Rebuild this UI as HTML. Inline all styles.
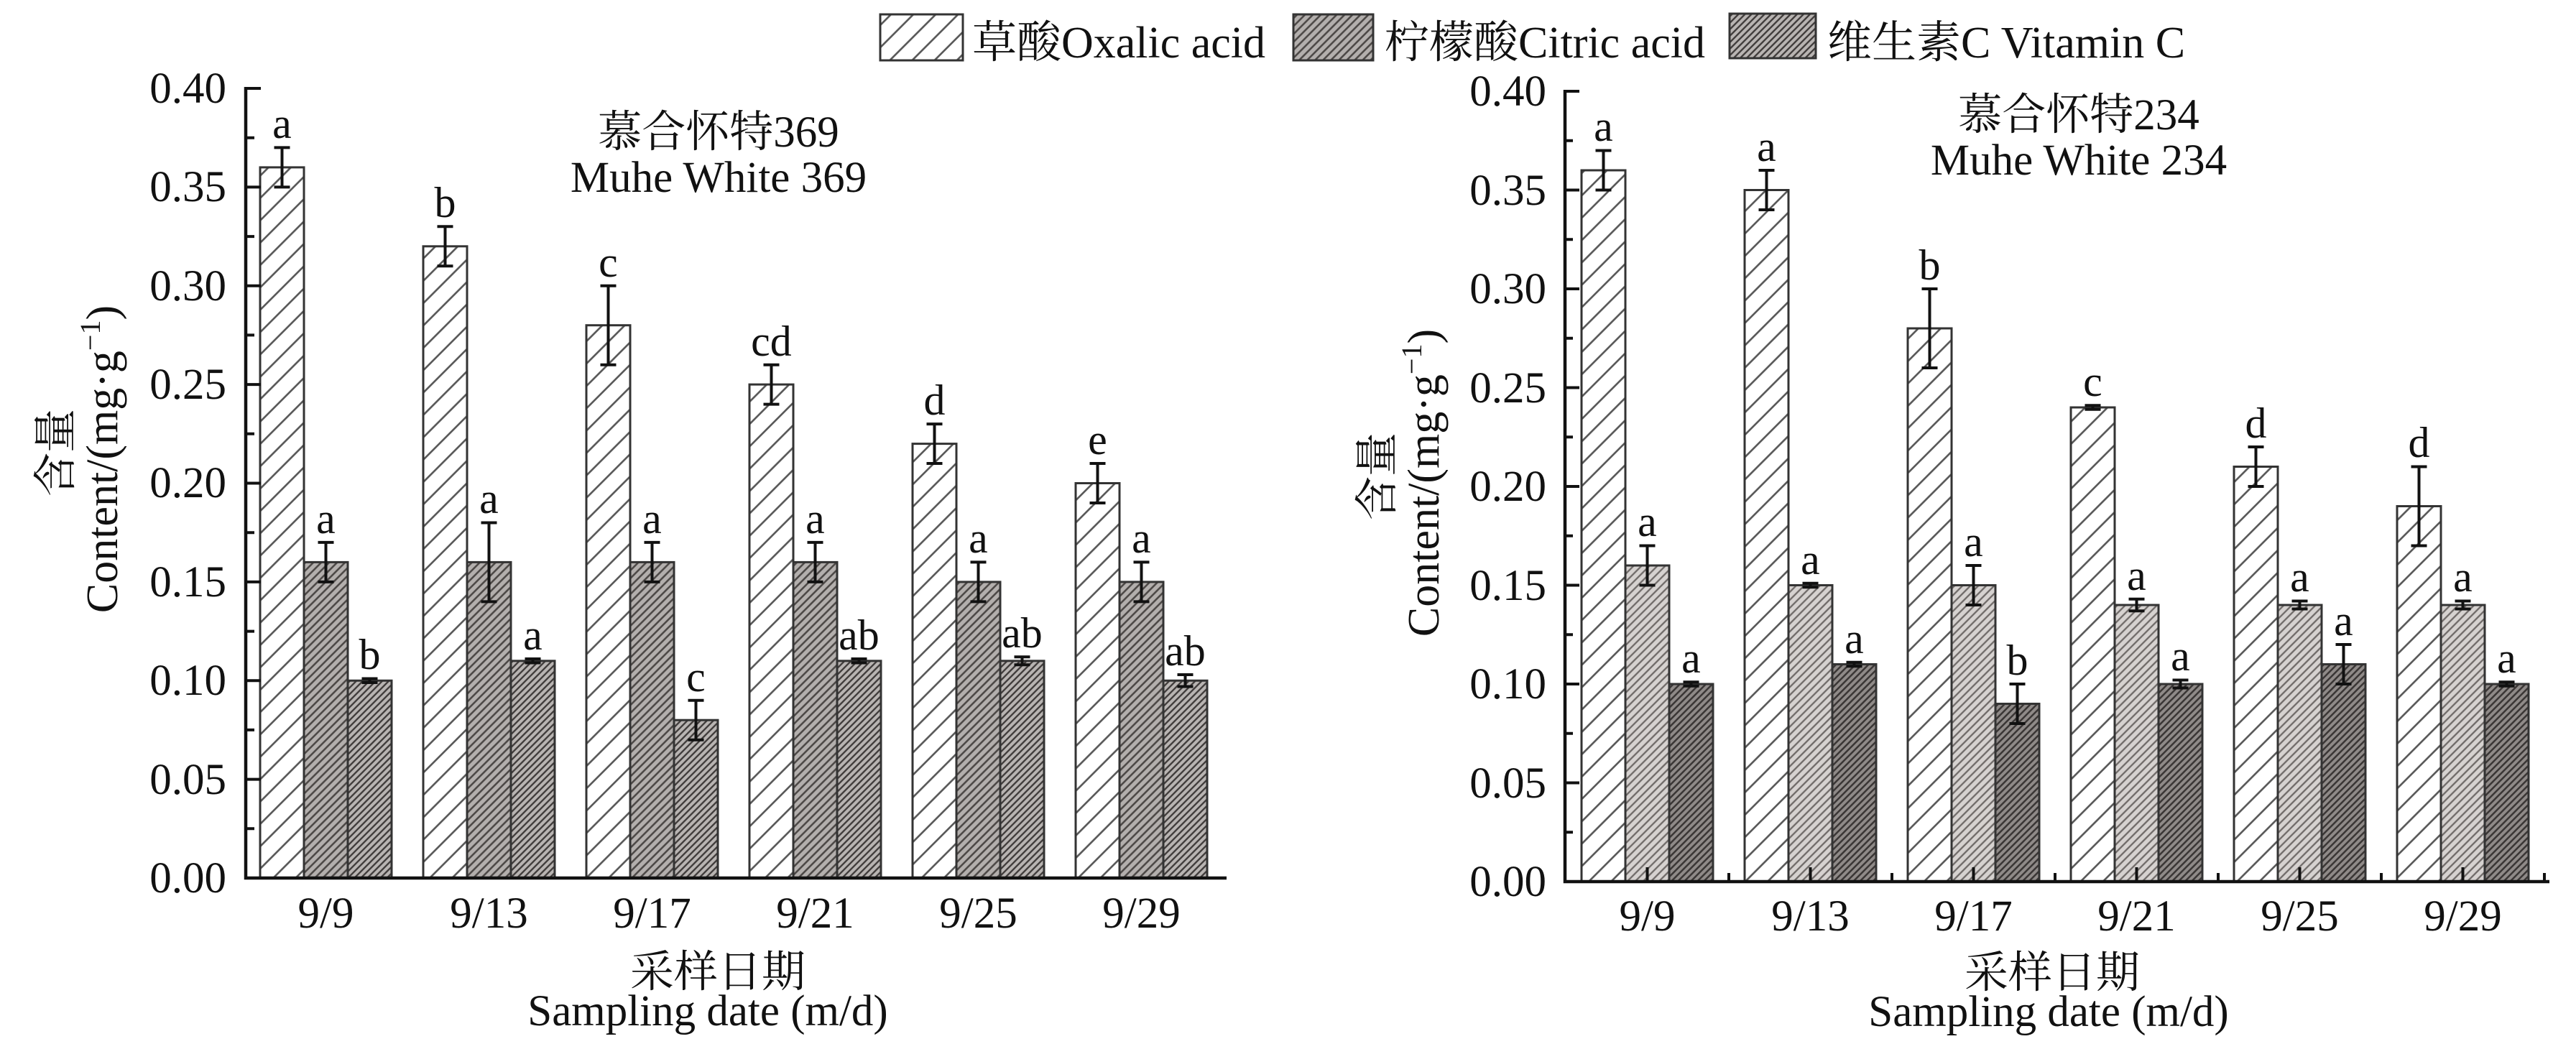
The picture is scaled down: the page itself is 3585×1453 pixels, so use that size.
<!DOCTYPE html>
<html><head><meta charset="utf-8"><style>
html,body{margin:0;padding:0;background:#fff;}
svg{display:block;}
text{font-family:"Liberation Serif","Noto Serif CJK SC",serif;fill:#111;}
</style></head><body>
<svg width="3585" height="1453" viewBox="0 0 3585 1453" xmlns="http://www.w3.org/2000/svg">
<defs>
<pattern id="ox" width="22" height="22" patternUnits="userSpaceOnUse" patternTransform="rotate(45)"><rect width="22" height="22" fill="#fff"/><line x1="11" y1="0" x2="11" y2="22" stroke="#555" stroke-width="2.6"/></pattern>
<pattern id="ciL" width="7.8" height="7.8" patternUnits="userSpaceOnUse" patternTransform="rotate(45)"><rect width="7.8" height="7.8" fill="#b3afad"/><line x1="3.9" y1="0" x2="3.9" y2="7.8" stroke="#4a4644" stroke-width="2.5"/></pattern>
<pattern id="vcL" width="6.4" height="6.4" patternUnits="userSpaceOnUse" patternTransform="rotate(45)"><rect width="6.4" height="6.4" fill="#b8b4b2"/><line x1="3.2" y1="0" x2="3.2" y2="6.4" stroke="#3e3a39" stroke-width="2.3"/></pattern>
<pattern id="ciR" width="7.8" height="7.8" patternUnits="userSpaceOnUse" patternTransform="rotate(45)"><rect width="7.8" height="7.8" fill="#d6d2d0"/><line x1="3.9" y1="0" x2="3.9" y2="7.8" stroke="#6f6a68" stroke-width="2.3"/></pattern>
<pattern id="vcR" width="6.4" height="6.4" patternUnits="userSpaceOnUse" patternTransform="rotate(45)"><rect width="6.4" height="6.4" fill="#8f8a88"/><line x1="3.2" y1="0" x2="3.2" y2="6.4" stroke="#3a3635" stroke-width="2.5"/></pattern>
</defs>
<rect width="3585" height="1453" fill="#fff"/>

<!-- Legend -->
<rect x="1225" y="20" width="115" height="64" fill="url(#ox)" stroke="#333" stroke-width="3"/>
<text x="1353" y="80" font-size="62">草酸Oxalic acid</text>
<rect x="1800" y="20" width="111" height="64" fill="url(#ciL)" stroke="#333" stroke-width="3"/>
<text x="1927" y="80" font-size="62">柠檬酸Citric acid</text>
<rect x="2407" y="19" width="120" height="62" fill="url(#vcL)" stroke="#333" stroke-width="3"/>
<text x="2543" y="80" font-size="62">维生素C Vitamin C</text>

<!-- ============ LEFT PANEL ============ -->
<g stroke="#333" stroke-width="3">
<rect x="362" y="232.9" width="61" height="989.1" fill="url(#ox)"/>
<rect x="423" y="782.4" width="61" height="439.6" fill="url(#ciL)"/>
<rect x="484" y="947.25" width="61" height="274.75" fill="url(#vcL)"/>
<rect x="589" y="342.8" width="61" height="879.2" fill="url(#ox)"/>
<rect x="650" y="782.4" width="61" height="439.6" fill="url(#ciL)"/>
<rect x="711" y="919.8" width="61" height="302.2" fill="url(#vcL)"/>
<rect x="816" y="452.7" width="61" height="769.3" fill="url(#ox)"/>
<rect x="877" y="782.4" width="61" height="439.6" fill="url(#ciL)"/>
<rect x="938" y="1002.2" width="61" height="219.8" fill="url(#vcL)"/>
<rect x="1043" y="535.1" width="61" height="686.9" fill="url(#ox)"/>
<rect x="1104" y="782.4" width="61" height="439.6" fill="url(#ciL)"/>
<rect x="1165" y="919.8" width="61" height="302.2" fill="url(#vcL)"/>
<rect x="1270" y="617.6" width="61" height="604.4" fill="url(#ox)"/>
<rect x="1331" y="809.9" width="61" height="412.1" fill="url(#ciL)"/>
<rect x="1392" y="919.8" width="61" height="302.2" fill="url(#vcL)"/>
<rect x="1497" y="672.5" width="61" height="549.5" fill="url(#ox)"/>
<rect x="1558" y="809.9" width="61" height="412.1" fill="url(#ciL)"/>
<rect x="1619" y="947.25" width="61" height="274.75" fill="url(#vcL)"/>
</g>
<g stroke="#111" stroke-width="4" fill="none">
<path d="M381.5 205.4H403.5M392.5 205.4V260.4M381.5 260.4H403.5"/>
<path d="M442.5 754.9H464.5M453.5 754.9V809.9M442.5 809.9H464.5"/>
<path d="M503.5 944.5H525.5M514.5 944.5V950M503.5 950H525.5"/>
<path d="M608.5 315.3H630.5M619.5 315.3V370.3M608.5 370.3H630.5"/>
<path d="M669.5 727.5H691.5M680.5 727.5V837.4M669.5 837.4H691.5"/>
<path d="M730.5 917H752.5M741.5 917V922.5M730.5 922.5H752.5"/>
<path d="M835.5 397.8H857.5M846.5 397.8V507.7M835.5 507.7H857.5"/>
<path d="M896.5 754.9H918.5M907.5 754.9V809.9M896.5 809.9H918.5"/>
<path d="M957.5 974.7H979.5M968.5 974.7V1029.7M957.5 1029.7H979.5"/>
<path d="M1062.5 507.7H1084.5M1073.5 507.7V562.6M1062.5 562.6H1084.5"/>
<path d="M1123.5 754.9H1145.5M1134.5 754.9V809.9M1123.5 809.9H1145.5"/>
<path d="M1184.5 917H1206.5M1195.5 917V922.5M1184.5 922.5H1206.5"/>
<path d="M1289.5 590.1H1311.5M1300.5 590.1V645M1289.5 645H1311.5"/>
<path d="M1350.5 782.4H1372.5M1361.5 782.4V837.4M1350.5 837.4H1372.5"/>
<path d="M1411.5 914.3H1433.5M1422.5 914.3V925.3M1411.5 925.3H1433.5"/>
<path d="M1516.5 645H1538.5M1527.5 645V700M1516.5 700H1538.5"/>
<path d="M1577.5 782.4H1599.5M1588.5 782.4V837.4M1577.5 837.4H1599.5"/>
<path d="M1638.5 939H1660.5M1649.5 939V955.5M1638.5 955.5H1660.5"/>
</g>
<g font-size="60" text-anchor="middle">
<text x="392.5" y="192">a</text><text x="453.5" y="742">a</text><text x="514.5" y="931">b</text>
<text x="619.5" y="302">b</text><text x="680.5" y="714">a</text><text x="741.5" y="904">a</text>
<text x="846.5" y="385">c</text><text x="907.5" y="742">a</text><text x="968.5" y="962">c</text>
<text x="1073.5" y="495">cd</text><text x="1134.5" y="742">a</text><text x="1195.5" y="904">ab</text>
<text x="1300.5" y="577">d</text><text x="1361.5" y="769">a</text><text x="1422.5" y="901">ab</text>
<text x="1527.5" y="632">e</text><text x="1588.5" y="769">a</text><text x="1649.5" y="926">ab</text>
</g>
<!-- left axes -->
<g stroke="#111" fill="none">
<path d="M342 121V1222H1707" stroke-width="4.5"/>
<path d="M342 1084.6h21M342 947.25h21M342 809.9h21M342 672.5h21M342 535.1h21M342 397.8h21M342 260.4h21M342 123h21" stroke-width="4"/>
<path d="M342 1153.3h12M342 1015.9h12M342 878.6h12M342 741.2h12M342 603.8h12M342 466.4h12M342 329.1h12M342 191.7h12" stroke-width="4"/>
</g>
<g font-size="61" text-anchor="end">
<text x="315" y="1242">0.00</text>
<text x="315" y="1105">0.05</text>
<text x="315" y="967">0.10</text>
<text x="315" y="830">0.15</text>
<text x="315" y="692">0.20</text>
<text x="315" y="555">0.25</text>
<text x="315" y="418">0.30</text>
<text x="315" y="280">0.35</text>
<text x="315" y="143">0.40</text>
</g>
<g font-size="61" text-anchor="middle">
<text x="453.5" y="1291">9/9</text>
<text x="680.5" y="1291">9/13</text>
<text x="907.5" y="1291">9/17</text>
<text x="1134.5" y="1291">9/21</text>
<text x="1361.5" y="1291">9/25</text>
<text x="1588.5" y="1291">9/29</text>
<text x="999" y="1373">采样日期</text>
<text x="985" y="1427">Sampling date (m/d)</text>
<text x="1000" y="204">慕合怀特369</text>
<text x="1000" y="267">Muhe White 369</text>
</g>
<text font-size="61" text-anchor="middle" transform="translate(98,630) rotate(-90)">含量</text>
<text font-size="62" text-anchor="middle" transform="translate(163,639) rotate(-90)">Content/(mg·g<tspan font-size="40" dy="-24">−1</tspan><tspan dy="24">)</tspan></text>

<!-- ============ RIGHT PANEL ============ -->
<g stroke="#333" stroke-width="3">
<rect x="2201" y="237" width="61" height="990" fill="url(#ox)"/>
<rect x="2262" y="787" width="61" height="440" fill="url(#ciR)"/>
<rect x="2323" y="952" width="61" height="275" fill="url(#vcR)"/>
<rect x="2428" y="264.5" width="61" height="962.5" fill="url(#ox)"/>
<rect x="2489" y="814.5" width="61" height="412.5" fill="url(#ciR)"/>
<rect x="2550" y="924.5" width="61" height="302.5" fill="url(#vcR)"/>
<rect x="2655" y="457" width="61" height="770" fill="url(#ox)"/>
<rect x="2716" y="814.5" width="61" height="412.5" fill="url(#ciR)"/>
<rect x="2777" y="979.5" width="61" height="247.5" fill="url(#vcR)"/>
<rect x="2882" y="567" width="61" height="660" fill="url(#ox)"/>
<rect x="2943" y="842" width="61" height="385" fill="url(#ciR)"/>
<rect x="3004" y="952" width="61" height="275" fill="url(#vcR)"/>
<rect x="3109" y="649.5" width="61" height="577.5" fill="url(#ox)"/>
<rect x="3170" y="842" width="61" height="385" fill="url(#ciR)"/>
<rect x="3231" y="924.5" width="61" height="302.5" fill="url(#vcR)"/>
<rect x="3336" y="704.5" width="61" height="522.5" fill="url(#ox)"/>
<rect x="3397" y="842" width="61" height="385" fill="url(#ciR)"/>
<rect x="3458" y="952" width="61" height="275" fill="url(#vcR)"/>
</g>
<g stroke="#111" stroke-width="4" fill="none">
<path d="M2220.5 209.5H2242.5M2231.5 209.5V264.5M2220.5 264.5H2242.5"/>
<path d="M2281.5 759.5H2303.5M2292.5 759.5V814.5M2281.5 814.5H2303.5"/>
<path d="M2342.5 949.25H2364.5M2353.5 949.25V954.75M2342.5 954.75H2364.5"/>
<path d="M2447.5 237H2469.5M2458.5 237V292M2447.5 292H2469.5"/>
<path d="M2508.5 811.75H2530.5M2519.5 811.75V817.25M2508.5 817.25H2530.5"/>
<path d="M2569.5 921.75H2591.5M2580.5 921.75V927.25M2569.5 927.25H2591.5"/>
<path d="M2674.5 402H2696.5M2685.5 402V512M2674.5 512H2696.5"/>
<path d="M2735.5 787H2757.5M2746.5 787V842M2735.5 842H2757.5"/>
<path d="M2796.5 952H2818.5M2807.5 952V1007M2796.5 1007H2818.5"/>
<path d="M2901.5 564.25H2923.5M2912.5 564.25V569.75M2901.5 569.75H2923.5"/>
<path d="M2962.5 833.75H2984.5M2973.5 833.75V850.25M2962.5 850.25H2984.5"/>
<path d="M3023.5 946.5H3045.5M3034.5 946.5V957.5M3023.5 957.5H3045.5"/>
<path d="M3128.5 622H3150.5M3139.5 622V677M3128.5 677H3150.5"/>
<path d="M3189.5 836.5H3211.5M3200.5 836.5V847.5M3189.5 847.5H3211.5"/>
<path d="M3250.5 897H3272.5M3261.5 897V952M3250.5 952H3272.5"/>
<path d="M3355.5 649.5H3377.5M3366.5 649.5V759.5M3355.5 759.5H3377.5"/>
<path d="M3416.5 836.5H3438.5M3427.5 836.5V847.5M3416.5 847.5H3438.5"/>
<path d="M3477.5 949.25H3499.5M3488.5 949.25V954.75M3477.5 954.75H3499.5"/>
</g>
<g font-size="60" text-anchor="middle">
<text x="2231.5" y="196">a</text><text x="2292.5" y="746">a</text><text x="2353.5" y="936">a</text>
<text x="2458.5" y="224">a</text><text x="2519.5" y="799">a</text><text x="2580.5" y="909">a</text>
<text x="2685.5" y="389">b</text><text x="2746.5" y="774">a</text><text x="2807.5" y="939">b</text>
<text x="2912.5" y="551">c</text><text x="2973.5" y="821">a</text><text x="3034.5" y="933">a</text>
<text x="3139.5" y="609">d</text><text x="3200.5" y="823">a</text><text x="3261.5" y="884">a</text>
<text x="3366.5" y="636">d</text><text x="3427.5" y="823">a</text><text x="3488.5" y="936">a</text>
</g>
<!-- right axes -->
<g stroke="#111" fill="none">
<path d="M2178 125V1227H3548" stroke-width="4.5"/>
<path d="M2178 1089.5h20M2178 952h20M2178 814.5h20M2178 677h20M2178 539.5h20M2178 402h20M2178 264.5h20M2178 127h20" stroke-width="4"/>
<path d="M2178 1158.25h11M2178 1020.75h11M2178 883.25h11M2178 745.75h11M2178 608.25h11M2178 470.75h11M2178 333.25h11M2178 195.75h11" stroke-width="4"/>
<path d="M2292.5 1227v-20M2519.5 1227v-20M2746.5 1227v-20M2973.5 1227v-20M3200.5 1227v-20M3427.5 1227v-20" stroke-width="4"/>
<path d="M2406 1227v-12M2633 1227v-12M2860 1227v-12M3087 1227v-12M3314 1227v-12M3541 1227v-12" stroke-width="4"/>
</g>
<g font-size="61" text-anchor="end">
<text x="2152" y="1247">0.00</text>
<text x="2152" y="1110">0.05</text>
<text x="2152" y="972">0.10</text>
<text x="2152" y="835">0.15</text>
<text x="2152" y="697">0.20</text>
<text x="2152" y="560">0.25</text>
<text x="2152" y="422">0.30</text>
<text x="2152" y="285">0.35</text>
<text x="2152" y="147">0.40</text>
</g>
<g font-size="61" text-anchor="middle">
<text x="2292.5" y="1295">9/9</text>
<text x="2519.5" y="1295">9/13</text>
<text x="2746.5" y="1295">9/17</text>
<text x="2973.5" y="1295">9/21</text>
<text x="3200.5" y="1295">9/25</text>
<text x="3427.5" y="1295">9/29</text>
<text x="2856" y="1374">采样日期</text>
<text x="2851" y="1428">Sampling date (m/d)</text>
<text x="2893" y="180">慕合怀特234</text>
<text x="2893" y="243">Muhe White 234</text>
</g>
<text font-size="61" text-anchor="middle" transform="translate(1937,663) rotate(-90)">含量</text>
<text font-size="62" text-anchor="middle" transform="translate(2002,672) rotate(-90)">Content/(mg·g<tspan font-size="40" dy="-24">−1</tspan><tspan dy="24">)</tspan></text>
</svg>
</body></html>
